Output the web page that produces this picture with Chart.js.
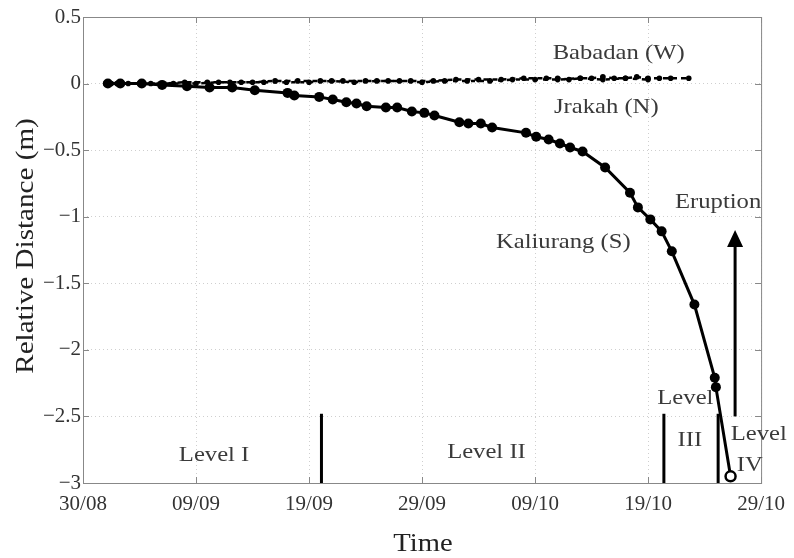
<!DOCTYPE html>
<html>
<head>
<meta charset="utf-8">
<script src="https://cdn.jsdelivr.net/npm/chart.js@4.4.1/dist/chart.umd.min.js"></script>
<style>
  html, body { margin: 0; padding: 0; background: #fff; }
  #wrap { width: 794px; height: 558px; }
</style>
</head>
<body>
<div id="wrap"><canvas id="chart"></canvas></div>
<script>
// x values are days since 30/08
const tickLabels = ['30/08', '09/09', '19/09', '29/09', '09/10', '19/10', '29/10'];

const kaliurangDays = [2.2, 3.3, 5.2, 7.0, 9.2, 11.2, 13.2, 15.2, 18.1, 18.7, 20.9, 22.1, 23.3, 24.2, 25.1, 26.8, 27.8,
    29.1, 30.2, 31.1, 33.3, 34.1, 35.2, 36.2, 39.2, 40.1, 41.2, 42.2, 43.1, 44.2, 46.2, 48.4, 49.1, 50.2,
    51.2, 52.1, 54.1, 55.9, 56.0, 57.3];
const kaliurangValues = [0, 0, 0, -0.01, -0.02, -0.03, -0.03, -0.05, -0.07, -0.09, -0.10, -0.12, -0.14, -0.15, -0.17, -0.18, -0.18,
    -0.21, -0.22, -0.24, -0.29, -0.30, -0.30, -0.33, -0.37, -0.40, -0.42, -0.45, -0.48, -0.51, -0.63, -0.82, -0.93, -1.02,
    -1.11, -1.26, -1.66, -2.21, -2.28, -2.95];

const babadanDays = [2, 3, 5, 7, 9, 11, 13, 15, 17, 19, 21, 23, 25, 27, 29, 31, 33, 35, 37, 39, 41, 42, 43, 44, 45,
    46, 47, 48, 49, 50, 51, 52, 53.6];
const babadanValues = [0, 0, 0, 0, 0.01, 0.01, 0.01, 0.01, 0.02, 0.02, 0.02, 0.02, 0.02, 0.02, 0.02, 0.02, 0.03, 0.03,
    0.03, 0.04, 0.04, 0.04, 0.03, 0.04, 0.04, 0.05, 0.04, 0.04, 0.05, 0.04, 0.04, 0.04, 0.04];

const jrakahDays = [2.5, 4, 6, 8, 10, 12, 14, 16, 18, 20, 22, 24, 26, 28, 30, 32, 34, 36, 38, 40, 42, 44, 46, 48, 50];
const jrakahValues = [0, 0, 0, 0, 0, 0.01, 0.01, 0.01, 0.01, 0.01, 0.02, 0.01, 0.02, 0.02, 0.01, 0.02, 0.02, 0.02,
    0.03, 0.03, 0.03, 0.04, 0.03, 0.04, 0.03];

// alert level changes (day) and eruption
const levelDays = [21.1, 51.4, 56.2];
const eruptionDay = 57.7;

const notes = [
    { text: 'Babadan (W)', x: 47.4, y: 0.23 },
    { text: 'Jrakah (N)', x: 46.3, y: -0.18 },
    { text: 'Kaliurang (S)', x: 42.5, y: -1.19 },
    { text: 'Eruption', x: 56.2, y: -0.89 },
    { text: 'Level I', x: 11.6, y: -2.79 },
    { text: 'Level II', x: 35.7, y: -2.77 },
    { text: 'Level', x: 53.3, y: -2.36 },
    { text: 'III', x: 53.7, y: -2.68 },
    { text: 'Level', x: 59.8, y: -2.63 },
    { text: 'IV', x: 59.0, y: -2.87 }
];

const serif = '"Liberation Serif", "Times New Roman", serif';

function pts(xs, ys) {
    return xs.map((x, i) => ({ x: x, y: ys[i] }));
}

// the source figure is a bit wider than tall, so text is stretched a little
function wideText(ctx, text, x, y, sx, rot) {
    ctx.save();
    ctx.translate(x, y);
    if (rot) ctx.rotate(rot);
    ctx.scale(sx, 1);
    ctx.fillText(text, 0, 0);
    ctx.restore();
}

const extras = {
    id: 'extras',
    beforeDatasetsDraw(chart) {
        const { ctx, chartArea: a, scales: { x, y } } = chart;
        ctx.save();
        // box + inward ticks like matlab
        ctx.strokeStyle = '#888';
        ctx.lineWidth = 1;
        ctx.strokeRect(a.left + 0.5, a.top + 0.5, a.right - a.left, a.bottom - a.top);
        ctx.beginPath();
        for (let i = 0; i <= 6; i++) {
            const px = Math.round(x.getPixelForValue(i * 10)) + 0.5;
            ctx.moveTo(px, a.bottom); ctx.lineTo(px, a.bottom - 6);
            ctx.moveTo(px, a.top); ctx.lineTo(px, a.top + 6);
        }
        for (let v = -3; v <= 0.5; v += 0.5) {
            const py = Math.round(y.getPixelForValue(v)) + 0.5;
            ctx.moveTo(a.left, py); ctx.lineTo(a.left + 6, py);
            ctx.moveTo(a.right, py); ctx.lineTo(a.right - 6, py);
        }
        ctx.stroke();
        ctx.restore();
    },
    afterDatasetsDraw(chart) {
        const { ctx, chartArea: a, scales: { x, y } } = chart;
        ctx.save();
        ctx.strokeStyle = '#000';
        ctx.lineWidth = 3;
        levelDays.forEach(d => {
            const px = x.getPixelForValue(d);
            ctx.beginPath();
            ctx.moveTo(px, y.getPixelForValue(-2.48));
            ctx.lineTo(px, y.getPixelForValue(-3));
            ctx.stroke();
        });
        // eruption arrow
        const ax = x.getPixelForValue(eruptionDay);
        const y0 = y.getPixelForValue(-2.5), y1 = y.getPixelForValue(-1.1);
        ctx.beginPath();
        ctx.moveTo(ax, y0);
        ctx.lineTo(ax, y1 + 14);
        ctx.stroke();
        ctx.fillStyle = '#000';
        ctx.beginPath();
        ctx.moveTo(ax, y1);
        ctx.lineTo(ax - 8, y1 + 17);
        ctx.lineTo(ax + 8, y1 + 17);
        ctx.closePath();
        ctx.fill();

        ctx.fillStyle = '#3a3a3a';
        ctx.font = '22px ' + serif;
        ctx.textAlign = 'center';
        ctx.textBaseline = 'middle';
        notes.forEach(n => {
            wideText(ctx, n.text, x.getPixelForValue(n.x), y.getPixelForValue(n.y), 1.12);
        });

        // axis titles
        ctx.fillStyle = '#222';
        ctx.font = '26px ' + serif;
        wideText(ctx, 'Time', (a.left + a.right) / 2 + 1, 544, 1.1);
        wideText(ctx, 'Relative Distance (m)', 26, 246, 1.12, -Math.PI / 2);
        ctx.restore();
    }
};

new Chart(document.getElementById('chart'), {
    type: 'scatter',
    data: {
        datasets: [
            {
                label: 'Babadan (W)',
                data: pts(babadanDays, babadanValues),
                showLine: true,
                borderColor: '#000',
                backgroundColor: '#000',
                borderWidth: 2.5,
                borderDash: [5, 4],
                pointRadius: 2.8,
                pointBorderWidth: 0
            },
            {
                label: 'Jrakah (N)',
                data: pts(jrakahDays, jrakahValues),
                showLine: true,
                borderColor: '#000',
                backgroundColor: '#000',
                borderWidth: 2.5,
                borderDash: [4, 5],
                pointRadius: 2.8,
                pointBorderWidth: 0
            },
            {
                label: 'Kaliurang (S)',
                data: pts(kaliurangDays, kaliurangValues),
                showLine: true,
                borderColor: '#000',
                backgroundColor: kaliurangDays.map((d, i) => i === kaliurangDays.length - 1 ? '#fff' : '#000'),
                pointBorderColor: '#000',
                borderWidth: 3,
                pointRadius: 5,
                pointBorderWidth: kaliurangDays.map((d, i) => i === kaliurangDays.length - 1 ? 2.5 : 0)
            }
        ]
    },
    options: {
        responsive: true,
        maintainAspectRatio: false,
        animation: false,
        layout: { padding: { left: 0, right: 31, top: 17, bottom: 0 } },
        plugins: {
            legend: { display: false },
            tooltip: { enabled: false }
        },
        scales: {
            x: {
                type: 'linear',
                min: 0,
                max: 60,
                afterFit: s => { s.height = 75; },
                afterBuildTicks: s => { s.ticks = tickLabels.map((t, i) => ({ value: i * 10 })); },
                ticks: {
                    callback: (v) => tickLabels[Math.round(v / 10)],
                    color: '#333',
                    font: { family: serif, size: 21 },
                    padding: 9,
                    maxRotation: 0
                },
                grid: { color: '#cfcfcf', drawTicks: false },
                border: { display: false, dash: [1, 3] }
            },
            y: {
                min: -3,
                max: 0.5,
                afterFit: s => { s.width = 83; },
                ticks: {
                    stepSize: 0.5,
                    callback: v => (v < 0 ? '\u2212' + Math.abs(v) : String(v)),
                    color: '#333',
                    font: { family: serif, size: 21 },
                    padding: 2
                },
                grid: { color: '#cfcfcf', drawTicks: false },
                border: { display: false, dash: [1, 3] }
            }
        }
    },
    plugins: [extras]
});
</script>
</body>
</html>
